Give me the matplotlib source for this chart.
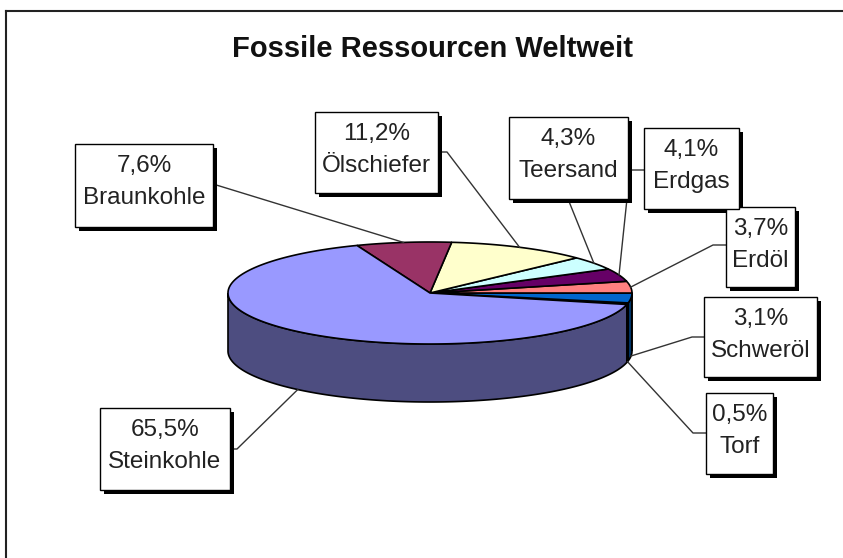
import numpy as np
import matplotlib
matplotlib.use("Agg")
import matplotlib.pyplot as plt
from matplotlib.patches import Polygon, Rectangle

plt.rcParams['font.family'] = ['Liberation Sans', 'DejaVu Sans']

# Data, counterclockwise from the start angle
names = ["Torf", "Schweröl", "Erdöl", "Erdgas", "Teersand", "Ölschiefer", "Braunkohle", "Steinkohle"]
shares = [0.5, 3.1, 3.7, 4.1, 4.3, 11.2, 7.6, 65.5]
colors = ["#ccccff", "#0066cc", "#ff8080", "#660066", "#ccffff", "#ffffcc", "#993366", "#9999ff"]

# Layout (pixels): label boxes (left, top, right, bottom) and leader points from box edge
boxes = [(706, 393, 773, 474), (704, 297, 817, 377), (726, 207, 795, 287), (644, 128, 739, 209),
         (509, 117, 628, 199), (315, 112, 438, 193), (75, 144, 213, 227), (100, 408, 230, 490)]
leaders = [[(706, 433), (693, 433)], [(704, 337), (692, 337)], [(726, 245), (713, 245)],
           [(644, 170), (630, 170)], [(568, 199)], [(438, 152), (447, 152)],
           [(213, 184)], [(230, 449), (237, 449)]]

CX, CY = 430, 293      # centre of top ellipse
RX, RY = 202, 51       # radii
DEPTH = 58             # thickness of the pie
START = -13            # start angle in degrees

fig = plt.figure(figsize=(8.43, 5.58), dpi=100)
ax = fig.add_axes([0, 0, 1, 1])
ax.set_xlim(0, 843)
ax.set_ylim(558, 0)
ax.axis('off')

def arc(t0, t1, dy=0):
    t = np.radians(np.linspace(t0, t1, max(int(abs(t1 - t0) * 2), 2)))
    return np.column_stack([CX + RX * np.cos(t), CY - RY * np.sin(t) + dy])

def darker(c, f=0.5):
    rgb = np.array(matplotlib.colors.to_rgb(c))
    return tuple(rgb * f)

bounds = START + np.concatenate([[0], np.cumsum(shares)]) / sum(shares) * 360

# front sides (only the part facing the viewer: sin < 0)
for i in range(len(shares)):
    t0, t1 = bounds[i], bounds[i + 1]
    for lo, hi in [(-180, 0), (180, 360)]:
        a, b = max(t0, lo), min(t1, hi)
        if b > a:
            top = arc(a, b)
            bot = arc(b, a, DEPTH)
            ax.add_patch(Polygon(np.vstack([top, bot]), closed=True, fc=darker(colors[i]),
                                 ec='black', lw=1.2, zorder=2))

# top faces
for i in range(len(shares)):
    pts = np.vstack([[CX, CY], arc(bounds[i], bounds[i + 1])])
    ax.add_patch(Polygon(pts, closed=True, fc=colors[i], ec='black', lw=1.2, zorder=3))

# labels with leader lines
for i in range(len(shares)):
    mid = np.radians((bounds[i] + bounds[i + 1]) / 2)
    ax_x = CX + RX * np.cos(mid)
    ax_y = CY - RY * np.sin(mid) + (DEPTH if np.sin(mid) < 0 else 0)
    pts = np.array(leaders[i] + [(ax_x, ax_y)])
    ax.plot(pts[:, 0], pts[:, 1], color='#333333', lw=1, zorder=4)

    x0, y0, x1, y1 = boxes[i]
    ax.add_patch(Rectangle((x0 + 4, y0 + 4), x1 - x0, y1 - y0, fc='black', ec='none', zorder=5))
    ax.add_patch(Rectangle((x0, y0), x1 - x0, y1 - y0, fc='white', ec='black', lw=1, zorder=6))
    pct = f"{shares[i]:.1f}".replace('.', ',') + "%"
    xc = (x0 + x1) / 2
    ax.text(xc, y0 + 28, pct, ha='center', va='baseline', fontsize=17.5, color='#222222', zorder=7)
    ax.text(xc, y0 + 60, names[i], ha='center', va='baseline', fontsize=17.5, color='#222222', zorder=7)

ax.text(432, 57, "Fossile Ressourcen Weltweit", ha='center', va='baseline',
        fontsize=21, fontweight='bold', color='#111111')

# outer frame (top and left edges)
ax.plot([6, 843], [11, 11], color='#222222', lw=1.5)
ax.plot([6, 6], [11, 558], color='#222222', lw=1.5)

fig.savefig("out.png", dpi=100)
